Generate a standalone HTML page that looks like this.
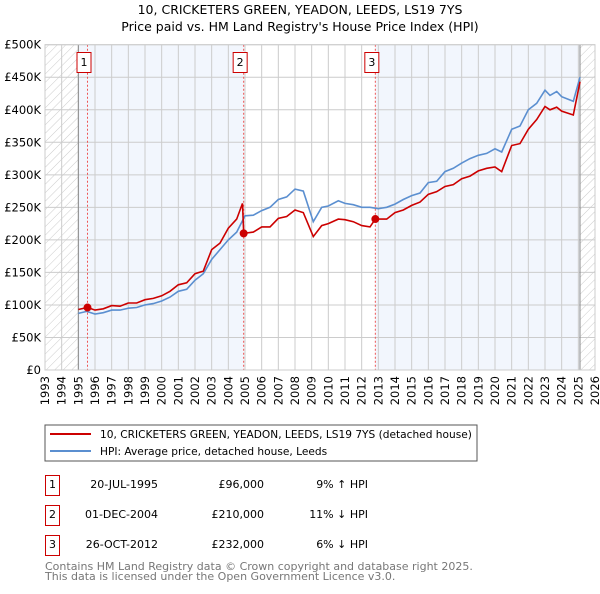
<!DOCTYPE html>
<html><head><meta charset="utf-8"><style>
body{margin:0;background:#fff;font-family:"DejaVu Sans","Liberation Sans",sans-serif}
svg text{font-family:"DejaVu Sans","Liberation Sans",sans-serif}
</style></head><body>
<svg id="chart" width="600" height="590" viewBox="0 0 600 590" xmlns="http://www.w3.org/2000/svg">
<defs><pattern id="hatch" width="6" height="6" patternUnits="userSpaceOnUse" patternTransform="rotate(45)"><line x1="0" y1="0" x2="0" y2="6" stroke="#ccc" stroke-width="1"/></pattern></defs>
<text x="300" y="14" text-anchor="middle" font-size="12.5" fill="#000">10, CRICKETERS GREEN, YEADON, LEEDS, LS19 7YS</text>
<text x="300" y="31" text-anchor="middle" font-size="12.5" fill="#000">Price paid vs. HM Land Registry's House Price Index (HPI)</text>
<g id="plot"></g>
<g>
<rect x="45" y="425" width="432" height="36" fill="#fff" stroke="#555" stroke-width="1"/>
<line x1="50" y1="434" x2="91" y2="434" stroke="#cc0000" stroke-width="2"/>
<text x="100" y="438" font-size="10.6">10, CRICKETERS GREEN, YEADON, LEEDS, LS19 7YS (detached house)</text>
<line x1="50" y1="451" x2="91" y2="451" stroke="#5b8fd0" stroke-width="2"/>
<text x="100" y="455" font-size="10.6">HPI: Average price, detached house, Leeds</text>
</g>
<g font-size="11">
<rect x="45.5" y="475.5" width="14" height="20" fill="#fff" stroke="#cc0000"/><text x="52.5" y="488" text-anchor="middle">1</text>
<text x="158" y="488" text-anchor="end">20-JUL-1995</text><text x="264" y="488" text-anchor="end">£96,000</text><text x="368" y="488" text-anchor="end">9% ↑ HPI</text>
<rect x="45.5" y="505.5" width="14" height="20" fill="#fff" stroke="#cc0000"/><text x="52.5" y="518" text-anchor="middle">2</text>
<text x="158" y="518" text-anchor="end">01-DEC-2004</text><text x="264" y="518" text-anchor="end">£210,000</text><text x="368" y="518" text-anchor="end">11% ↓ HPI</text>
<rect x="45.5" y="535.5" width="14" height="20" fill="#fff" stroke="#cc0000"/><text x="52.5" y="548" text-anchor="middle">3</text>
<text x="158" y="548" text-anchor="end">26-OCT-2012</text><text x="264" y="548" text-anchor="end">£232,000</text><text x="368" y="548" text-anchor="end">6% ↓ HPI</text>
</g>
<text x="45" y="570" font-size="11" fill="#777">Contains HM Land Registry data © Crown copyright and database right 2025.</text>
<text x="45" y="580" font-size="11" fill="#777">This data is licensed under the Open Government Licence v3.0.</text>
</svg>
<script>
const hpiYears=[1995,1995.5,1996,1996.5,1997,1997.5,1998,1998.5,1999,1999.5,2000,2000.5,2001,2001.5,2002,2002.5,2003,2003.5,2004,2004.5,2005,2005.5,2006,2006.5,2007,2007.5,2008,2008.5,2009.1,2009.6,2010,2010.6,2011,2011.5,2012,2012.5,2013,2013.5,2014,2014.5,2015,2015.5,2016,2016.5,2017,2017.5,2018,2018.5,2019,2019.5,2020,2020.4,2021,2021.5,2022,2022.5,2023,2023.3,2023.7,2024,2024.7,2025.1];
const hpiValues=[87,90,86,88,92,92,95,96,100,102,106,112,121,124,138,148,170,185,200,212,237,238,245,250,262,266,278,275,228,250,252,260,256,254,250,250,248,250,255,262,268,272,288,290,305,310,318,325,330,333,340,335,370,375,400,410,430,422,428,420,413,450];
const paidYears=[1995,1995.55,1996,1996.5,1997,1997.5,1998,1998.5,1999,1999.5,2000,2000.5,2001,2001.5,2002,2002.5,2003,2003.5,2004,2004.5,2004.85,2004.92,2005.5,2006,2006.5,2007,2007.5,2008,2008.5,2009.1,2009.6,2010,2010.6,2011,2011.5,2012,2012.5,2012.82,2013.5,2014,2014.5,2015,2015.5,2016,2016.5,2017,2017.5,2018,2018.5,2019,2019.5,2020,2020.4,2021,2021.5,2022,2022.5,2023,2023.3,2023.7,2024,2024.7,2025.1];
const paidValues=[93,96,92,94,99,98,103,103,108,110,114,121,131,134,148,152,185,195,218,232,256,210,212,220,220,233,236,246,242,205,222,225,232,231,228,222,220,232,232,242,246,253,258,270,274,282,285,294,298,306,310,312,305,345,348,370,385,405,400,404,398,392,443];
const saleYears=[1995.55,2004.92,2012.82];
const saleValues=[96,210,232];
const saleLabels=["1","2","3"];
const yTicks=[0,50,100,150,200,250,300,350,400,450,500];
const yTickLabels=["£0","£50K","£100K","£150K","£200K","£250K","£300K","£350K","£400K","£450K","£500K"];
const xYears=[1993,1994,1995,1996,1997,1998,1999,2000,2001,2002,2003,2004,2005,2006,2007,2008,2009,2010,2011,2012,2013,2014,2015,2016,2017,2018,2019,2020,2021,2022,2023,2024,2025,2026];

const L=45,R=595,T=44.7,B=370,x0=1993,x1=2026,ymax=500;
const sx=y=>L+(y-x0)/(x1-x0)*(R-L);
const sy=v=>B-v/ymax*(B-T);
const NS="http://www.w3.org/2000/svg";
const g=document.getElementById('plot');
function mk(tag,attrs,parent){const e=document.createElementNS(NS,tag);for(const k in attrs)e.setAttribute(k,attrs[k]);(parent||g).appendChild(e);return e;}
const s1=mk('rect',{x:sx(1995),y:T,width:sx(saleYears[1])-sx(1995),height:B-T,fill:'#f2f6fd'});


const s2=mk('rect',{x:sx(saleYears[2]),y:T,width:sx(2025.1)-sx(saleYears[2]),height:B-T,fill:'#f2f6fd'});


const h1=mk('rect',{x:L,y:T,width:sx(1995)-L,height:B-T,fill:'url(#hatch)'});


const h2=mk('rect',{x:sx(2025.1),y:T,width:R-sx(2025.1),height:B-T,fill:'url(#hatch)'});


yTicks.forEach((v,i)=>{
 const ln=mk('line',{x1:L,x2:R,y1:sy(v),y2:sy(v),stroke:'#ccc','stroke-width':1});
 
 
 const t=mk('text',{x:L-4,y:sy(v)+4,'text-anchor':'end','font-size':'11.5',fill:'#000'});
 
 
 t.textContent=yTickLabels[i];
});
xYears.forEach(yr=>{
 const ln=mk('line',{x1:sx(yr),x2:sx(yr),y1:T,y2:B,stroke:'#ccc','stroke-width':1});
 
 
 const t=mk('text',{x:0,y:0,'text-anchor':'end','font-size':'11.5',fill:'#000',transform:`translate(${sx(yr)+4},${B+6}) rotate(-90)`});
 
 
 t.textContent=yr;
});
const v1=mk('line',{x1:sx(1995),x2:sx(1995),y1:T,y2:B,stroke:'#888','stroke-width':1});


const v2=mk('line',{x1:sx(2025.1),x2:sx(2025.1),y1:T,y2:B,stroke:'#888','stroke-width':1});


saleYears.forEach((yr,i)=>{
 const ln=mk('line',{x1:sx(yr),x2:sx(yr),y1:T,y2:B,stroke:'#e55','stroke-width':1,'stroke-dasharray':'2,2'});
 
 
 const bx=mk('rect',{x:sx(yr)-10.5,y:52.5,width:14,height:20,fill:'#fff',stroke:'#cc0000'});
 
 
 const t=mk('text',{x:sx(yr)-3.5,y:66,'text-anchor':'middle','font-size':'11'});
 
 
 t.textContent=saleLabels[i];
});
const pts=(xs,vs)=>xs.map((x,i)=>sx(x).toFixed(1)+','+sy(vs[i]).toFixed(1)).join(' ');
const hl=mk('polyline',{points:pts(hpiYears,hpiValues),fill:'none',stroke:'#5b8fd0','stroke-width':1.6});


const pl=mk('polyline',{points:pts(paidYears,paidValues),fill:'none',stroke:'#cc0000','stroke-width':1.6});


saleYears.forEach((yr,i)=>{
 const c=mk('circle',{cx:sx(yr),cy:sy(saleValues[i]),r:4,fill:'#cc0000'});
 
 
});
const fr=mk('rect',{x:L,y:T,width:R-L,height:B-T,fill:'none',stroke:'#ccc'});


</script>
</body></html>
